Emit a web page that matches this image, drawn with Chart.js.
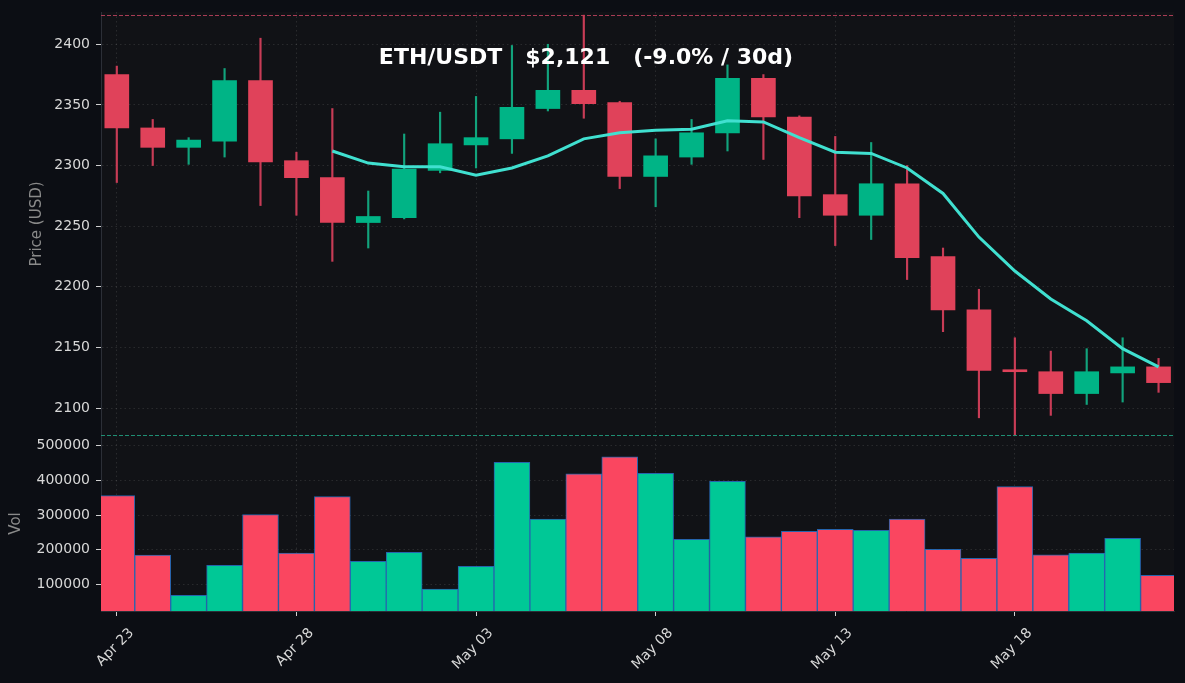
<!DOCTYPE html>
<html>
<head>
<meta charset="utf-8">
<script src="https://cdn.jsdelivr.net/npm/chart.js@4.4.1/dist/chart.umd.min.js"></script>
<style>
  html, body { margin: 0; padding: 0; background: #0c0e14; }
  #wrap { width: 1185px; height: 683px; position: relative; }
</style>
</head>
<body>
<div id="wrap"><canvas id="c" width="1185" height="683"></canvas></div>
<script>
// ---- data ----
const dates = ['Apr 23','Apr 24','Apr 25','Apr 26','Apr 27','Apr 28','Apr 29','Apr 30','May 01','May 02',
               'May 03','May 04','May 05','May 06','May 07','May 08','May 09','May 10','May 11','May 12',
               'May 13','May 14','May 15','May 16','May 17','May 18','May 19','May 20','May 21','May 22'];
const opens  = [2375,2331,2315,2320,2370,2304,2290,2253,2257,2296,2317,2322,2347,2362,2352,2291,2307,2327,2372,2340,2276,2259,2285,2225,2181,2131,2130,2112,2129,2134];
const highs  = [2382,2338,2323,2380,2405,2311,2347,2279,2326,2344,2357,2399,2400,2424,2353,2322,2338,2383,2375,2341,2324,2319,2300,2232,2198,2158,2147,2149,2158,2141];
const lows   = [2286,2300,2301,2307,2267,2259,2221,2232,2256,2294,2298,2310,2345,2339,2281,2266,2301,2312,2305,2257,2234,2239,2206,2163,2092,2078,2094,2103,2105,2113];
const closes = [2331,2315,2321,2370,2303,2290,2253,2258,2297,2318,2323,2348,2362,2351,2291,2308,2327,2372,2340,2275,2259,2285,2224,2181,2131,2130,2112,2130,2134,2121];
const volumes = [356000,184000,68000,155000,301000,190000,353000,166000,192000,86000,152000,452000,288000,419000,468000,420000,230000,397000,237000,253000,259000,256000,288000,201000,175000,382000,185000,190000,233000,126000];
const ma7 = [null,null,null,null,null,null,2312,2302,2299,2299,2292,2298,2308,2322,2327,2329,2330,2337,2336,2323,2311,2310,2298,2277,2241,2213,2190,2172,2149,2134];
const priceTicks = [2100, 2150, 2200, 2250, 2300, 2350, 2400];
const volumeTicks = [100000, 200000, 300000, 400000, 500000];
const dateTickIndex = [0, 5, 10, 15, 20, 25];
const titleText = 'ETH/USDT   $2,121   (-9.0% / 30d)';

// ---- styles ----
const UP = '#00b486', DOWN = '#e0425a';
const UP_WICK = '#12a37c', DOWN_WICK = '#c83c56';
const VOL_UP = '#00c896', VOL_DOWN = '#fa4660';
const GRID = 'rgba(255,255,255,0.13)';
const FONT = "'DejaVu Sans', sans-serif";

const isUp = closes.map((c, i) => c >= opens[i]);

const bgPlugin = {
  id: 'panelBg',
  beforeDraw(chart) {
    const {ctx, chartArea: a} = chart;
    ctx.save();
    ctx.fillStyle = '#111216';
    ctx.fillRect(a.left, a.top, a.right - a.left, a.bottom - a.top);
    ctx.restore();
  }
};

const hiLoPlugin = {
  id: 'hiLo',
  beforeDatasetsDraw(chart) {
    const {ctx, chartArea: a} = chart;
    const ys = chart.scales.y;
    const hi = Math.max(...highs), lo = Math.min(...lows);
    ctx.save();
    ctx.lineWidth = 1;
    ctx.setLineDash([4, 2]);
    [[hi, '#a83c55'], [lo, '#1f8f74']].forEach(([v, col]) => {
      const py = Math.round(ys.getPixelForValue(v)) + 0.5;
      ctx.strokeStyle = col;
      ctx.beginPath();
      ctx.moveTo(a.left, py);
      ctx.lineTo(a.right, py);
      ctx.stroke();
    });
    ctx.restore();
  }
};

const titlePlugin = {
  id: 'overlayTitle',
  afterDraw(chart) {
    const {ctx, chartArea: a} = chart;
    ctx.save();
    ctx.font = "bold 22px " + FONT;
    ctx.fillStyle = '#ffffff';
    ctx.textAlign = 'center';
    ctx.textBaseline = 'alphabetic';
    ctx.fillText(titleText, a.left + (a.right - a.left) * 0.452, a.top + 51.5);
    ctx.restore();
  }
};

const tickFont = {family: FONT, size: 14};
const fitY = s => { s.width = 101; s.paddingTop = 0; s.paddingBottom = 0; };

new Chart(document.getElementById('c'), {
  type: 'bar',
  data: {
    datasets: [
      {
        type: 'line',
        label: 'MA7',
        data: ma7.map((v, i) => ({x: i, y: v})),
        yAxisID: 'y',
        borderColor: '#40e0d0',
        borderWidth: 3,
        pointRadius: 0,
        tension: 0,
        spanGaps: false,
        order: 0
      },
      {
        label: 'body',
        data: opens.map((o, i) => ({x: i, y: [o, closes[i]]})),
        yAxisID: 'y',
        backgroundColor: isUp.map(u => u ? UP : DOWN),
        borderWidth: 0,
        barThickness: 24,
        minBarLength: 2,
        grouped: false,
        order: 1
      },
      {
        label: 'wick',
        data: lows.map((l, i) => ({x: i, y: [l, highs[i]]})),
        yAxisID: 'y',
        backgroundColor: isUp.map(u => u ? UP_WICK : DOWN_WICK),
        borderWidth: 0,
        barThickness: 1.5,
        grouped: false,
        order: 2
      },
      {
        label: 'volume',
        data: volumes.map((v, i) => ({x: i, y: v})),
        yAxisID: 'yv',
        backgroundColor: isUp.map(u => u ? VOL_UP : VOL_DOWN),
        borderColor: 'rgba(40,110,190,0.9)',
        borderWidth: 1,
        barPercentage: 1,
        categoryPercentage: 1,
        grouped: false,
        order: 3
      }
    ]
  },
  options: {
    responsive: false,
    animation: false,
    layout: {padding: {top: 12, right: 11, left: 0, bottom: 0}},
    plugins: {legend: {display: false}, tooltip: {enabled: false}},
    scales: {
      x: {
        type: 'linear',
        position: 'bottom',
        offset: false,
        min: -0.44,
        max: 29.43,
        afterFit: s => { s.height = 72; },
        afterBuildTicks: s => { s.ticks = dateTickIndex.map(v => ({value: v})); },
        grid: {offset: false, color: GRID, lineWidth: 0.8, tickColor: '#d0d0d0', tickLength: 5, tickWidth: 1},
        border: {display: true, color: '#2c2f37', dash: [1.5, 3]},
        ticks: {
          autoSkip: false,
          minRotation: 45, maxRotation: 45,
          color: '#d8d8d8', font: tickFont, padding: 9, labelOffset: 15,
          callback: v => dates[v]
        }
      },
      yv: {
        type: 'linear',
        position: 'left',
        stack: 'panels',
        stackWeight: 175,
        min: 22950,
        max: 528000,
        afterFit: fitY,
        afterBuildTicks: s => { s.ticks = volumeTicks.map(v => ({value: v})); },
        grid: {color: GRID, lineWidth: 0.8, tickColor: '#d0d0d0', tickLength: 5, tickWidth: 1},
        border: {display: true, color: '#2c2f37', dash: [1.5, 3]},
        title: {display: true, text: 'Vol', color: '#8a8a8a', font: {family: FONT, size: 15}, padding: {top: 7, bottom: 0}},
        ticks: {
          autoSkip: false, color: '#d8d8d8', font: tickFont, padding: 6,
          callback: v => String(v)
        }
      },
      y: {
        type: 'linear',
        position: 'left',
        stack: 'panels',
        stackWeight: 424,
        min: 2077,
        max: 2426.6,
        afterFit: fitY,
        afterBuildTicks: s => { s.ticks = priceTicks.map(v => ({value: v})); },
        grid: {color: GRID, lineWidth: 0.8, tickColor: '#d0d0d0', tickLength: 5, tickWidth: 1},
        border: {display: true, color: '#2c2f37', dash: [1.5, 3]},
        title: {display: true, text: 'Price (USD)', color: '#8a8a8a', font: {family: FONT, size: 15}, padding: {top: 28, bottom: 0}},
        ticks: {
          autoSkip: false, color: '#d8d8d8', font: tickFont, padding: 6,
          callback: v => String(v)
        }
      }
    }
  },
  plugins: [bgPlugin, hiLoPlugin, titlePlugin]
});
</script>
</body>
</html>
